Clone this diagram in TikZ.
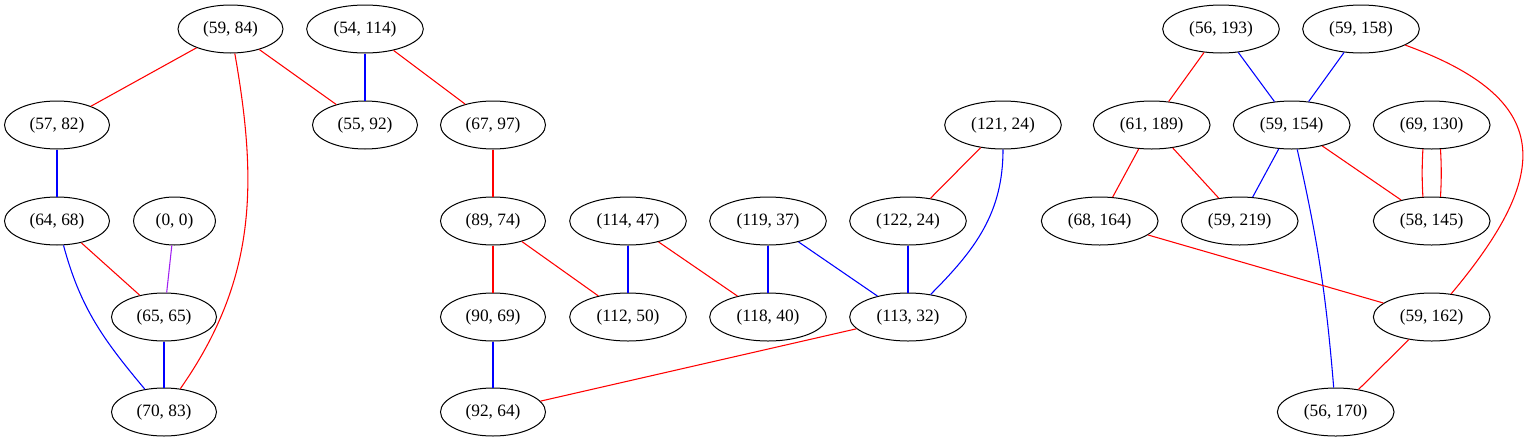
\documentclass[tikz,border=0pt]{standalone}
\usepackage{fontspec}
\setmainfont{Liberation Serif}
\usetikzlibrary{shapes.geometric}
\definecolor{gvpurple}{HTML}{A020F0}

\begin{document}
\begin{tikzpicture}[x=0.75pt,y=0.75pt,
    pt/.style={ellipse, draw=black, line width=0.75pt, inner sep=0pt,
      minimum height=36pt, minimum width=78.75pt,
      font=\fontsize{13}{15}\selectfont},
    ptw/.style={pt, minimum width=87.5pt},
    pts/.style={pt, minimum width=61.5pt},
    re/.style={draw=red, line width=0.8pt},
    bl/.style={draw=blue, line width=0.8pt},
    pu/.style={draw=gvpurple, line width=0.8pt}]
  \useasboundingbox (0,0) rectangle (1530,-443);
  % first row
  \node[pt]  (p5984)  at (230.5,-29) {(59, 84)};
  \node[ptw] (p54114) at (365,-29)   {(54, 114)};
  \node[ptw] (p56193) at (1221,-29)  {(56, 193)};
  \node[ptw] (p59158) at (1361,-29)  {(59, 158)};
  % second row
  \node[pt]  (p5782)  at (57,-125)     {(57, 82)};
  \node[pt]  (p5592)  at (365,-125)    {(55, 92)};
  \node[pt]  (p6797)  at (493,-125)    {(67, 97)};
  \node[ptw] (p12124) at (1003,-125)   {(121, 24)};
  \node[ptw] (p61189) at (1151.7,-125) {(61, 189)};
  \node[ptw] (p59154) at (1291.7,-125) {(59, 154)};
  \node[ptw] (p69130) at (1431.7,-125) {(69, 130)};
  % third row
  \node[pt]  (p6468)  at (57,-221)     {(64, 68)};
  \node[pts] (p00)    at (174.5,-221)  {(0, 0)};
  \node[pt]  (p8974)  at (493,-221)    {(89, 74)};
  \node[ptw] (p11447) at (628,-221)    {(114, 47)};
  \node[ptw] (p11937) at (768,-221)    {(119, 37)};
  \node[ptw] (p12224) at (908,-221)    {(122, 24)};
  \node[ptw] (p68164) at (1099.7,-221) {(68, 164)};
  \node[ptw] (p59219) at (1239.7,-221) {(59, 219)};
  \node[ptw] (p58145) at (1431.7,-221) {(58, 145)};
  % fourth row
  \node[pt]  (p6565)  at (164,-317)    {(65, 65)};
  \node[pt]  (p9069)  at (493,-317)    {(90, 69)};
  \node[ptw] (p11250) at (628,-317)    {(112, 50)};
  \node[ptw] (p11840) at (768,-317)    {(118, 40)};
  \node[ptw] (p11332) at (908,-317)    {(113, 32)};
  \node[ptw] (p59162) at (1431.7,-317) {(59, 162)};
  % fifth row
  \node[pt]  (p7083)  at (164,-412)    {(70, 83)};
  \node[pt]  (p9264)  at (493,-412)    {(92, 64)};
  \node[ptw] (p56170) at (1335.7,-412) {(56, 170)};

  % left part
  \draw[re] (p5984) -- (p5782);
  \draw[re] (p5984) -- (p5592);
  \draw[re] (p5984) to[out=-80, in=55, looseness=1.0] (p7083);
  \draw[bl] (p54114) -- (p5592);
  \draw[re] (p54114) -- (p6797);
  \draw[bl] (p5782) -- (p6468);
  \draw[re] (p6468) -- (p6565);
  \draw[bl] (p6468) to[out=-75, in=130] (p7083);
  \draw[pu] (p00) -- (p6565);
  \draw[bl] (p6565) -- (p7083);
  % middle part
  \draw[re] (p6797) -- (p8974);
  \draw[re] (p8974) -- (p9069);
  \draw[re] (p8974) -- (p11250);
  \draw[bl] (p9069) -- (p9264);
  \draw[bl] (p11447) -- (p11250);
  \draw[re] (p11447) -- (p11840);
  \draw[bl] (p11937) -- (p11840);
  \draw[bl] (p11937) -- (p11332);
  \draw[re] (p12124) -- (p12224);
  \draw[bl] (p12124) to[out=-90, in=45] (p11332);
  \draw[bl] (p12224) -- (p11332);
  \draw[re] (p11332) -- (p9264);
  % right part
  \draw[re] (p56193) -- (p61189);
  \draw[bl] (p56193) -- (p59154);
  \draw[bl] (p59158) -- (p59154);
  \draw[re] (p59158) to[out=-20, in=50, looseness=1.6] (p59162);
  \draw[re] (p61189) -- (p68164);
  \draw[re] (p61189) -- (p59219);
  \draw[bl] (p59154) -- (p59219);
  \draw[bl] (p59154) to[bend left=4] (p56170);
  \draw[re] (p59154) -- (p58145);
  \draw[re] (p69130.-110) to[bend right=3] (p58145.110);
  \draw[re] (p69130.-70) to[bend left=3] (p58145.70);
  \draw[re] (p68164) -- (p59162);
  \draw[re] (p59162) -- (p56170);
\end{tikzpicture}
\end{document}
